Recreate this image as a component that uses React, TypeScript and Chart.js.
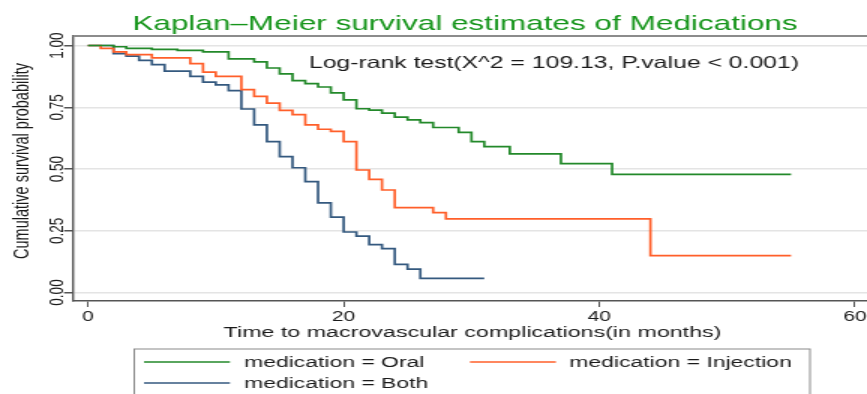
import React, { useEffect, useRef } from "react";
import { Chart, registerables } from "chart.js";

Chart.register(...registerables);

// ---- text ----
const chartTitle = "Kaplan–Meier survival estimates of Medications";
const testLabel = "Log-rank test(X^2 = 109.13, P.value < 0.001)";
const xAxisTitle = "Time to macrovascular complications(in months)";
const yAxisTitle = "Cumulative survival probability";

// ---- series ----
const seriesNames = ["medication = Oral", "medication = Injection", "medication = Both"];
const seriesColors = ["#23892a", "#ff5f2a", "#34597f"];

const oralTimes = [0, 2, 3, 5, 7, 9, 11, 13, 14, 15, 16, 17, 18, 19, 20, 21, 22, 23, 24, 25, 26, 27, 29, 30, 31, 33, 37, 41, 55];
const oralSurvival = [1.0, 0.995, 0.988, 0.984, 0.98, 0.974, 0.946, 0.934, 0.909, 0.885, 0.858, 0.846, 0.832, 0.808, 0.78, 0.744, 0.738, 0.726, 0.71, 0.699, 0.688, 0.668, 0.648, 0.611, 0.591, 0.561, 0.522, 0.478, 0.478];

const injectionTimes = [0, 1, 2, 3, 5, 8, 9, 10, 12, 13, 14, 15, 16, 17, 18, 19, 20, 21, 22, 23, 24, 27, 28, 44, 55];
const injectionSurvival = [1.0, 0.988, 0.974, 0.963, 0.95, 0.927, 0.892, 0.875, 0.821, 0.794, 0.767, 0.737, 0.72, 0.679, 0.661, 0.652, 0.611, 0.496, 0.458, 0.415, 0.344, 0.323, 0.298, 0.149, 0.149];

const bothTimes = [0, 2, 3, 4, 5, 6, 8, 9, 10, 11, 12, 13, 14, 15, 16, 17, 18, 19, 20, 21, 22, 23, 24, 25, 26, 31];
const bothSurvival = [1.0, 0.967, 0.957, 0.94, 0.923, 0.896, 0.875, 0.852, 0.841, 0.817, 0.743, 0.679, 0.611, 0.55, 0.505, 0.449, 0.363, 0.305, 0.245, 0.228, 0.194, 0.178, 0.114, 0.095, 0.057, 0.057];

// ---- axes ----
const xTicks = [0, 20, 40, 60];
const xMin = -1.17;
const xMax = 60.94;
const yTicks = [0, 0.25, 0.5, 0.75, 1];
const yTickLabels = ["0.00", "0.25", "0.50", "0.75", "1.00"];
const yMin = -0.0344;
const yMax = 1.0385;

const FONT = "'Liberation Sans', Arial, sans-serif";
const STRETCH = 1.5;
const CSS_W = 867;
const CSS_H = 394;
const CANVAS_W = Math.round(CSS_W / STRETCH);

const toPoints = (ts: number[], ss: number[]) => ts.map((t, i) => ({ x: t, y: ss[i] }));

const decorPlugin = {
  id: "kmDecor",
  afterDraw(chart: any) {
    const { ctx, chartArea, scales } = chart;
    const ys = scales.y;
    ctx.save();
    // top frame line
    ctx.strokeStyle = "#8c8c8c";
    ctx.lineWidth = 2;
    ctx.beginPath();
    ctx.moveTo(chartArea.left, chartArea.top);
    ctx.lineTo(chartArea.right, chartArea.top);
    ctx.stroke();

    // title
    ctx.fillStyle = "#16951b";
    ctx.font = `21px ${FONT}`;
    ctx.textAlign = "center";
    ctx.textBaseline = "alphabetic";
    ctx.fillText(chartTitle, 310, 30);

    // log-rank annotation
    ctx.fillStyle = "#1a1a1a";
    ctx.font = `16.5px ${FONT}`;
    ctx.textAlign = "left";
    ctx.fillText(testLabel, 206, 68);

    // y tick labels (rotated)
    ctx.font = `13.5px ${FONT}`;
    ctx.textAlign = "center";
    ctx.textBaseline = "middle";
    yTicks.forEach((v, i) => {
      const py = ys.getPixelForValue(v);
      ctx.save();
      ctx.translate(38, py);
      ctx.rotate(-Math.PI / 2);
      ctx.fillText(yTickLabels[i], 0, 0);
      ctx.restore();
    });

    // y axis title
    ctx.font = `14.5px ${FONT}`;
    ctx.save();
    ctx.translate(14.5, 161);
    ctx.rotate(-Math.PI / 2);
    ctx.fillText(yAxisTitle, 0, 0);
    ctx.restore();

    // x axis title
    ctx.font = `15.5px ${FONT}`;
    ctx.textBaseline = "alphabetic";
    ctx.fillText(xAxisTitle, 315, 337);

    // legend
    const lgLeft = 89.5;
    const lgTop = 349;
    const lgRight = 540;
    ctx.strokeStyle = "#8a8a8a";
    ctx.lineWidth = 1;
    ctx.strokeRect(lgLeft, lgTop, lgRight - lgLeft, CSS_H - lgTop + 10);
    const slots = [
      { lx: 96, y: 362, tx: 162.7 },
      { lx: 313.3, y: 362, tx: 379.5 },
      { lx: 96, y: 383, tx: 162.7 },
    ];
    ctx.font = `15.3px ${FONT}`;
    ctx.textAlign = "left";
    ctx.textBaseline = "middle";
    chart.data.datasets.forEach((ds: any, i: number) => {
      const s = slots[i];
      ctx.strokeStyle = ds.borderColor;
      ctx.lineWidth = 1.5;
      ctx.beginPath();
      ctx.moveTo(s.lx, s.y);
      ctx.lineTo(s.lx + 57.3, s.y);
      ctx.stroke();
      ctx.fillStyle = "#1a1a1a";
      ctx.fillText(ds.label, s.tx, s.y + 0.5);
    });
    ctx.restore();
  },
};

export default function App() {
  const canvasRef = useRef<HTMLCanvasElement | null>(null);

  useEffect(() => {
    if (!canvasRef.current) return;
    const seriesPoints = [
      toPoints(oralTimes, oralSurvival),
      toPoints(injectionTimes, injectionSurvival),
      toPoints(bothTimes, bothSurvival),
    ];
    const chart = new Chart(canvasRef.current, {
      type: "line",
      data: {
        datasets: seriesPoints.map((pts, i) => ({
          label: seriesNames[i],
          data: pts,
          borderColor: seriesColors[i],
          backgroundColor: seriesColors[i],
          borderWidth: 1.7,
          pointRadius: 0,
          stepped: "before" as const,
          fill: false,
          tension: 0,
        })),
      },
      options: {
        responsive: false,
        animation: false,
        devicePixelRatio: 1,
        layout: { padding: { top: 36, left: 0, right: 0, bottom: 0 } },
        plugins: {
          legend: { display: false },
          title: { display: false },
          tooltip: { enabled: false },
        },
        scales: {
          x: {
            type: "linear",
            min: xMin,
            max: xMax,
            afterBuildTicks: (scale: any) => {
              scale.ticks = xTicks.map((v) => ({ value: v }));
            },
            afterFit: (scale: any) => {
              scale.height = CSS_H - 301;
              scale.paddingLeft = 0;
              scale.paddingRight = 0;
            },
            grid: {
              drawOnChartArea: false,
              drawTicks: true,
              tickLength: 6,
              tickColor: "#555555",
              lineWidth: 1,
            },
            border: { display: true, color: "#555555", width: 1.5 },
            ticks: {
              autoSkip: false,
              maxRotation: 0,
              minRotation: 0,
              padding: 2,
              color: "#1a1a1a",
              font: { family: FONT, size: 14 },
              callback: (v: any) => String(v),
            },
          },
          y: {
            type: "linear",
            min: yMin,
            max: yMax,
            afterBuildTicks: (scale: any) => {
              scale.ticks = yTicks.map((v) => ({ value: v }));
            },
            afterFit: (scale: any) => {
              scale.width = 73 / STRETCH;
              scale.paddingTop = 0;
              scale.paddingBottom = 0;
            },
            grid: {
              drawOnChartArea: true,
              drawTicks: true,
              tickLength: 6,
              color: "#e4e4e4",
              tickColor: "#555555",
              lineWidth: 1.5,
            },
            border: { display: true, color: "#555555", width: 1.4 },
            ticks: { display: false },
          },
        },
      },
      plugins: [decorPlugin],
    });
    return () => chart.destroy();
  }, []);

  return (
    <div style={{ position: "absolute", left: 0, top: 0, width: CSS_W, height: CSS_H, background: "#ffffff" }}>
      <canvas
        ref={canvasRef}
        width={CANVAS_W}
        height={CSS_H}
        style={{ width: `${CSS_W}px`, height: `${CSS_H}px`, display: "block" }}
      />
    </div>
  );
}
